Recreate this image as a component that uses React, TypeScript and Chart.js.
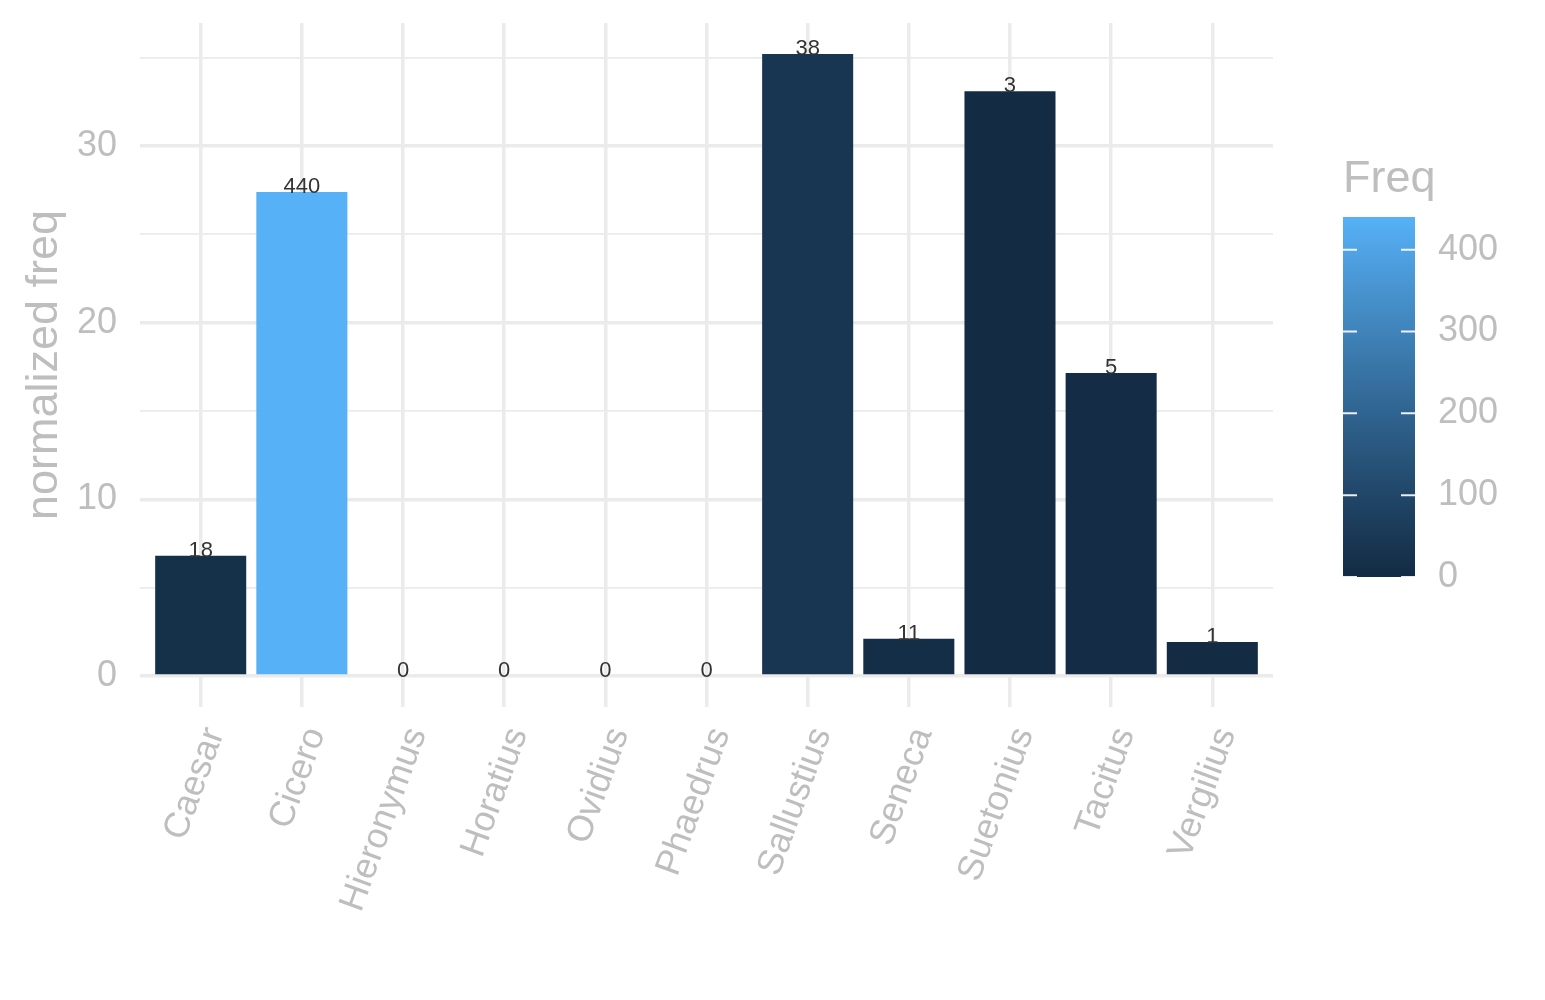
import { useEffect, useRef } from "react";
import { Chart, registerables } from "chart.js";

Chart.register(...registerables);

const authors = [
  "Caesar",
  "Cicero",
  "Hieronymus",
  "Horatius",
  "Ovidius",
  "Phaedrus",
  "Sallustius",
  "Seneca",
  "Suetonius",
  "Tacitus",
  "Vergilius",
];
const normFreq = [6.8, 27.4, 0, 0, 0, 0, 35.2, 2.1, 33.1, 17.15, 1.92];
const freq = [18, 440, 0, 0, 0, 0, 38, 11, 3, 5, 1];
const legendTicks = [0, 100, 200, 300, 400];
const freqLimits = [0, 440];

const FONT = "'Liberation Sans', Arial, Helvetica, sans-serif";
const GREY = "#bebebe";
const GRID = "#ebebeb";

// ggplot-style gradient (#132B43 -> #56B1F7), interpolated in Lab space
function toLin(c: number) {
  c /= 255;
  return c <= 0.04045 ? c / 12.92 : Math.pow((c + 0.055) / 1.055, 2.4);
}
function fromLin(c: number) {
  const v = c <= 0.0031308 ? 12.92 * c : 1.055 * Math.pow(c, 1 / 2.4) - 0.055;
  return Math.max(0, Math.min(255, Math.round(v * 255)));
}
function hexToLab(hex: string) {
  const r = toLin(parseInt(hex.slice(1, 3), 16));
  const g = toLin(parseInt(hex.slice(3, 5), 16));
  const b = toLin(parseInt(hex.slice(5, 7), 16));
  const x = (0.4124 * r + 0.3576 * g + 0.1805 * b) / 0.95047;
  const y = 0.2126 * r + 0.7152 * g + 0.0722 * b;
  const z = (0.0193 * r + 0.1192 * g + 0.9505 * b) / 1.08883;
  const f = (t: number) => (t > 0.008856 ? Math.cbrt(t) : 7.787 * t + 16 / 116);
  return [116 * f(y) - 16, 500 * (f(x) - f(y)), 200 * (f(y) - f(z))];
}
function labToRgb([L, A, B]: number[]) {
  const fy = (L + 16) / 116;
  const fx = fy + A / 500;
  const fz = fy - B / 200;
  const inv = (t: number) => (t * t * t > 0.008856 ? t * t * t : (t - 16 / 116) / 7.787);
  const x = inv(fx) * 0.95047;
  const y = inv(fy);
  const z = inv(fz) * 1.08883;
  const r = 3.2406 * x - 1.5372 * y - 0.4986 * z;
  const g = -0.9689 * x + 1.8758 * y + 0.0415 * z;
  const b = 0.0557 * x - 0.204 * y + 1.057 * z;
  return `rgb(${fromLin(r)}, ${fromLin(g)}, ${fromLin(b)})`;
}
const LOW = hexToLab("#132B43");
const HIGH = hexToLab("#56B1F7");
function freqColor(v: number) {
  const t = (v - freqLimits[0]) / (freqLimits[1] - freqLimits[0]);
  return labToRgb(LOW.map((l, i) => l + (HIGH[i] - l) * t));
}

const valueLabels = {
  id: "valueLabels",
  afterDatasetsDraw(chart: any) {
    const { ctx } = chart;
    const meta = chart.getDatasetMeta(0);
    ctx.save();
    ctx.font = `22px ${FONT}`;
    ctx.fillStyle = "#333333";
    ctx.textAlign = "center";
    ctx.textBaseline = "alphabetic";
    meta.data.forEach((bar: any, i: number) => {
      ctx.fillText(String(freq[i]), bar.x, bar.y + 1);
    });
    ctx.restore();
  },
};

// colourbar legend on the right, like ggplot's guide_colourbar
const colorbar = {
  id: "colorbar",
  afterDraw(chart: any) {
    const { ctx } = chart;
    const left = 1343;
    const right = 1415;
    const top = 217;
    const bottom = 577;
    const yOf = (v: number) =>
      bottom - ((v - freqLimits[0]) / (freqLimits[1] - freqLimits[0])) * (bottom - top);

    ctx.save();
    ctx.font = `45px ${FONT}`;
    ctx.fillStyle = GREY;
    ctx.textAlign = "left";
    ctx.textBaseline = "alphabetic";
    ctx.fillText("Freq", 1343, 192);

    const grad = ctx.createLinearGradient(0, bottom, 0, top);
    for (let s = 0; s <= 20; s++) {
      grad.addColorStop(s / 20, freqColor(freqLimits[0] + (s / 20) * (freqLimits[1] - freqLimits[0])));
    }
    ctx.fillStyle = grad;
    ctx.fillRect(left, top, right - left, bottom - top);

    ctx.strokeStyle = "rgba(255,255,255,0.9)";
    ctx.lineWidth = 2;
    ctx.font = `36px ${FONT}`;
    ctx.fillStyle = GREY;
    ctx.textBaseline = "middle";
    legendTicks.forEach((t) => {
      const y = yOf(t);
      ctx.beginPath();
      ctx.moveTo(left, y);
      ctx.lineTo(left + 14, y);
      ctx.moveTo(right - 14, y);
      ctx.lineTo(right, y);
      ctx.stroke();
      ctx.fillText(String(t), 1438, y);
    });
    ctx.restore();
  },
};

export default function App() {
  const canvasRef = useRef<HTMLCanvasElement | null>(null);

  useEffect(() => {
    const canvas = canvasRef.current;
    if (!canvas) return;

    const chart = new Chart(canvas, {
      type: "bar",
      data: {
        datasets: [
          {
            label: "normalized freq",
            data: normFreq.map((v, i) => ({ x: i, y: v })),
            backgroundColor: freq.map(freqColor),
            borderWidth: 0,
            barPercentage: 1,
            categoryPercentage: 0.9,
          },
        ],
      },
      options: {
        animation: false,
        responsive: true,
        maintainAspectRatio: false,
        layout: { padding: { top: 23, right: 272, bottom: 0, left: 0 } },
        plugins: {
          legend: { display: false },
          tooltip: { enabled: false },
        },
        scales: {
          x: {
            type: "linear",
            offset: false,
            min: -0.6,
            max: authors.length - 0.4,
            afterFit: (s: any) => {
              s.height = 293;
              s.paddingLeft = 0;
              s.paddingRight = 0;
            },
            border: { display: false },
            grid: { color: GRID, lineWidth: 3.5, drawTicks: false, offset: false },
            ticks: {
              stepSize: 1,
              includeBounds: false,
              autoSkip: false,
              minRotation: 70,
              maxRotation: 70,
              padding: 15,
              labelOffset: 14,
              color: GREY,
              font: { family: FONT, size: 36 },
              callback: (v: any) => authors[v] ?? "",
            },
          },
          y: {
            min: -1.76,
            max: 36.96,
            afterFit: (s: any) => {
              s.width = 140;
              s.paddingTop = 0;
              s.paddingBottom = 0;
            },
            border: { display: false },
            grid: {
              color: GRID,
              drawTicks: false,
              lineWidth: (c: any) => (c.tick && c.tick.value % 10 === 0 ? 3.5 : 1.75),
            },
            ticks: {
              stepSize: 5,
              includeBounds: false,
              padding: 23,
              color: GREY,
              font: { family: FONT, size: 36 },
              callback: (v: any) => (v % 10 === 0 ? String(v) : ""),
            },
            title: {
              display: true,
              text: "normalized freq",
              color: GREY,
              font: { family: FONT, size: 45 },
              padding: { top: 18, bottom: 0 },
            },
          },
        },
      },
      plugins: [valueLabels, colorbar],
    });

    return () => chart.destroy();
  }, []);

  return (
    <div style={{ position: "absolute", left: 0, top: 0, width: 1545, height: 1000, background: "#fff" }}>
      <canvas ref={canvasRef} />
    </div>
  );
}
